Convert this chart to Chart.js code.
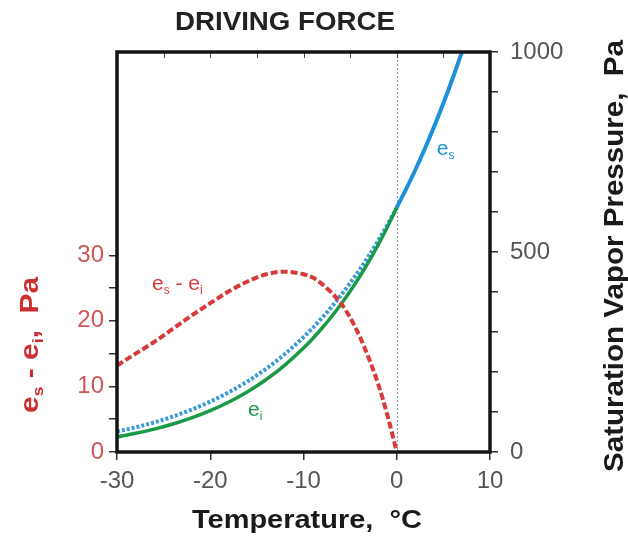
<!DOCTYPE html>
<html><head><meta charset="utf-8">
<script src="https://cdn.jsdelivr.net/npm/chart.js@4"></script>
<style>html,body{margin:0;padding:0;background:#fff}</style>
</head><body>
<canvas id="c" width="628" height="538"></canvas>
<script>
// ---- data ----
const temps   = [-30,-28,-26,-24,-22,-20,-18,-16,-14,-12,-10,-9,-8,-7,-6,-5,-4,-3,-2,-1,0];
const esWater = [51.2,61.7,74.1,88.7,105.9,126.0,149.4,176.7,208.3,244.8,287.0,310.5,335.6,362.5,391.4,422.2,455.2,490.4,528.1,568.3,611.2];
const eiIce   = [38.0,46.7,57.3,69.9,85.1,103.3,124.9,150.7,181.2,217.3,259.9,283.9,310.0,338.2,368.7,401.7,437.5,476.1,517.7,562.7,611.2];
const diffEsEi= [13.2,15.0,16.8,18.8,20.8,22.7,24.5,26.0,27.1,27.5,27.1,26.6,25.6,24.3,22.7,20.5,17.7,14.3,10.4,5.6,0];
const warmTemps = [0,1,2,3,4,5,6,7];
const esWarm    = [611.2,657.0,705.7,757.6,812.9,871.7,934.3,1000.8];
const xTickVals     = [-30,-20,-10,0,10];
const leftTickVals  = [0,5,10,15,20,25,30];
const leftLabelVals = [0,10,20,30];
const rightTickVals = [0,100,200,300,400,500,600,700,800,900,1000];
const rightLabelVals= [0,500,1000];

const RED='#d63a3a', BLUE='#1e90d8', GREEN='#1a9a48';
const FONT='"Liberation Sans", Arial, sans-serif';
Chart.defaults.font.family = FONT;

const pts = (xs, ys) => xs.map((x,i)=>({x, y: ys[i]}));

function drawSegs(ctx, segs, x, y, o){
  ctx.save();
  let widths = segs.map(s=>{ctx.font=s.font; return ctx.measureText(s.t).width;});
  let total = widths.reduce((a,b)=>a+b,0);
  let sx = o.width ? o.width/total : 1;
  ctx.translate(x,y);
  if(o.rotate) ctx.rotate(o.rotate);
  ctx.scale(sx,1);
  let cx = o.align==='center' ? -total/2 : 0;
  ctx.textBaseline='alphabetic'; ctx.textAlign='left';
  segs.forEach((s,i)=>{ctx.font=s.font; ctx.fillStyle=s.color||o.color; ctx.fillText(s.t, cx, s.dy||0); cx+=widths[i];});
  ctx.restore();
}

const deco = {
  id:'deco',
  beforeDatasetsDraw(chart){
    const {ctx, chartArea:a, scales:{x}} = chart;
    ctx.save();
    ctx.strokeStyle='#9a9a9a'; ctx.lineWidth=1.2; ctx.setLineDash([2,2]);
    const px = Math.round(x.getPixelForValue(0))+0.5;
    ctx.beginPath(); ctx.moveTo(px,a.top); ctx.lineTo(px,a.bottom); ctx.stroke();
    ctx.restore();
  },
  afterDraw(chart){
    const {ctx, chartArea:a, scales:{x, yL, yR}} = chart;
    ctx.save();
    // inner top ticks
    ctx.strokeStyle='#444'; ctx.lineWidth=1;
    for(let v=-25; v<10; v+=5){
      const px=Math.round(x.getPixelForValue(v))+0.5;
      ctx.beginPath(); ctx.moveTo(px,a.top); ctx.lineTo(px,a.top+6); ctx.stroke();
    }
    // frame
    ctx.strokeStyle='#151515'; ctx.lineWidth=3.5;
    ctx.strokeRect(a.left, a.top, a.right-a.left, a.bottom-a.top);
    ctx.restore();
    // title
    drawSegs(ctx,[{t:'DRIVING FORCE',font:'bold 25px '+FONT}],285,30,{align:'center',width:220,color:'#222'});
    // x title
    drawSegs(ctx,[{t:'Temperature,  °C',font:'bold 26px '+FONT}],307,528,{align:'center',width:230,color:'#1a1a1a'});
    // right title
    drawSegs(ctx,[{t:'Saturation Vapor Pressure,  Pa',font:'bold 27px '+FONT}],623,256,{align:'center',width:432,rotate:-Math.PI/2,color:'#1a1a1a'});
    // left title
    const bf='bold 25px '+FONT, sf='bold 15px '+FONT;
    drawSegs(ctx,[{t:'e',font:bf},{t:'s',font:sf,dy:5},{t:' - ',font:bf},{t:'e',font:bf},{t:'i',font:sf,dy:5},{t:',  Pa',font:bf}],38,345,{align:'center',width:136,rotate:-Math.PI/2,color:'#cc2f2f'});
    // curve labels
    const nf='21px '+FONT, ns='12px '+FONT;
    drawSegs(ctx,[{t:'e',font:nf},{t:'s',font:ns,dy:4}], x.getPixelForValue(4.3), yR.getPixelForValue(742),{color:BLUE});
    drawSegs(ctx,[{t:'e',font:nf},{t:'s',font:ns,dy:4},{t:' - ',font:nf},{t:'e',font:nf},{t:'i',font:ns,dy:4}], x.getPixelForValue(-26.25), yL.getPixelForValue(24.7),{color:RED});
    drawSegs(ctx,[{t:'e',font:nf},{t:'i',font:ns,dy:4}], x.getPixelForValue(-15.95), yR.getPixelForValue(90),{color:GREEN});
  }
};

new Chart(document.getElementById('c'), {
  type:'line',
  data:{datasets:[
    {label:'es-ei', data:pts(temps,diffEsEi), yAxisID:'yL', borderColor:RED, borderWidth:4, borderDash:[7,3], cubicInterpolationMode:'monotone', pointRadius:0, fill:false},
    {label:'ei', data:pts(temps,eiIce), yAxisID:'yR', borderColor:GREEN, borderWidth:3.5, cubicInterpolationMode:'monotone', pointRadius:0, fill:false},
    {label:'es super', data:pts(temps,esWater), yAxisID:'yR', borderColor:'#3a9ad9', borderWidth:4, borderDash:[3,2], cubicInterpolationMode:'monotone', pointRadius:0, fill:false},
    {label:'es', data:pts(warmTemps,esWarm), yAxisID:'yR', borderColor:BLUE, borderWidth:4, cubicInterpolationMode:'monotone', pointRadius:0, fill:false}
  ]},
  options:{
    responsive:false, animation:false, devicePixelRatio:1,
    layout:{padding:{top:52,left:0,right:0,bottom:0}},
    plugins:{legend:{display:false}, title:{display:false}, tooltip:{enabled:false}},
    scales:{
      x:{type:'linear', min:-30, max:10,
        afterBuildTicks:s=>{s.ticks=xTickVals.map(v=>({value:v}));},
        afterFit:s=>{s.height=86;},
        ticks:{font:{size:24}, color:'#555', padding:7, maxRotation:0, autoSkip:false},
        grid:{drawOnChartArea:false, drawTicks:true, tickLength:8, color:'#333', lineWidth:1.5},
        border:{display:false}},
      yL:{type:'linear', position:'left', min:0, max:61,
        afterBuildTicks:s=>{s.ticks=leftTickVals.map(v=>({value:v}));},
        afterFit:s=>{s.width=117;},
        ticks:{font:{size:24}, color:'#d05656', padding:5, autoSkip:false,
          callback:v=>leftLabelVals.includes(v)?String(v):''},
        grid:{drawOnChartArea:false, drawTicks:true, tickLength:8, color:'#333', lineWidth:1.5},
        border:{display:false}},
      yR:{type:'linear', position:'right', min:0, max:1000,
        afterBuildTicks:s=>{s.ticks=rightTickVals.map(v=>({value:v}));},
        afterFit:s=>{s.width=138;},
        ticks:{font:{size:24}, color:'#555', padding:12, autoSkip:false,
          callback:v=>rightLabelVals.includes(v)?String(v):''},
        grid:{drawOnChartArea:false, drawTicks:true, tickLength:8, color:'#333', lineWidth:1.5},
        border:{display:false}}
    }
  },
  plugins:[deco]
});
</script>
</body></html>
